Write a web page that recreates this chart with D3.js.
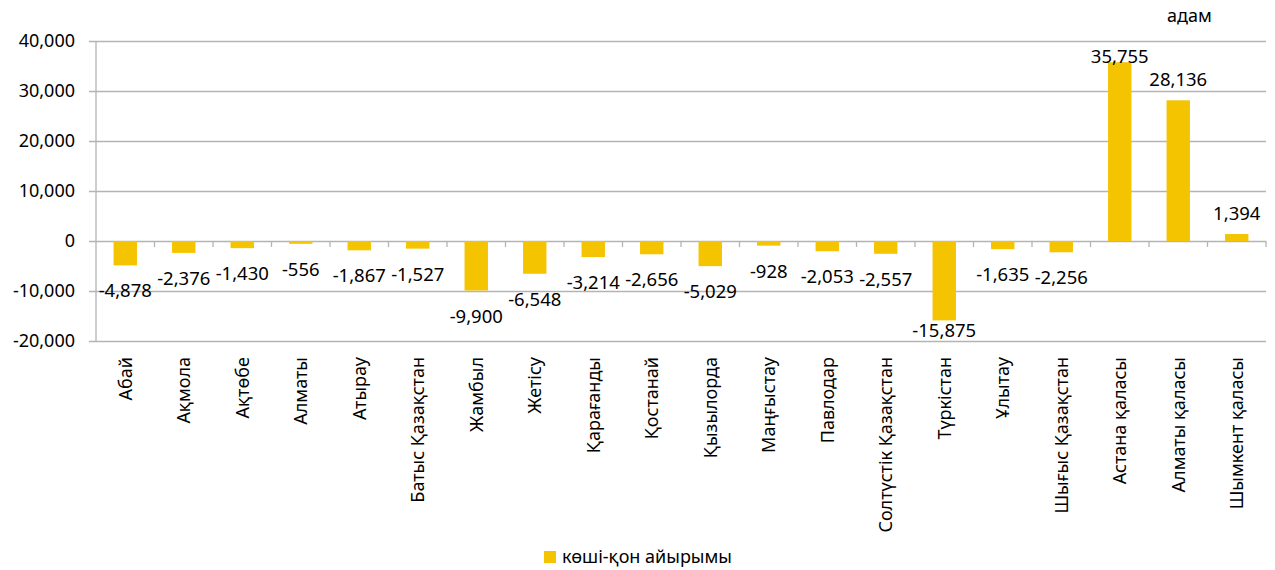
<!DOCTYPE html>
<html>
<head>
<meta charset="utf-8">
<script src="https://cdn.jsdelivr.net/npm/d3@7"></script>
<style>
  body { margin: 0; background: #fff; }
  svg text { font-family: "Noto Sans", "Open Sans", sans-serif; fill: #000; }
</style>
</head>
<body>
<div class="app"></div>
<script>
// region names and net migration values (persons)
var regions = ["Абай", "Ақмола", "Ақтөбе", "Алматы", "Атырау", "Батыс Қазақстан",
  "Жамбыл", "Жетісу", "Қарағанды", "Қостанай", "Қызылорда", "Маңғыстау", "Павлодар",
  "Солтүстік Қазақстан", "Түркістан", "Ұлытау", "Шығыс  Қазақстан", "Астана қаласы",
  "Алматы қаласы", "Шымкент қаласы"];
var netMigration = [-4878, -2376, -1430, -556, -1867, -1527, -9900, -6548, -3214, -2656,
  -5029, -928, -2053, -2557, -15875, -1635, -2256, 35755, 28136, 1394];
var yTicks = [-20000, -10000, 0, 10000, 20000, 30000, 40000];
var seriesName = "көші-қон айырымы";
var unitLabel = "адам";

var width = 1275, height = 570;
var plotL = 96, plotR = 1266, plotT = 41, plotB = 341;
var barColor = "#F5C400", gridColor = "#b4b4b4";
var fmtBase = d3.format(",");
var fmt = function (v) { return fmtBase(v).replace("\u2212", "-"); };

var svg = d3.select(".app").append("svg").attr("width", width).attr("height", height);

var x = d3.scaleBand().domain(regions).range([plotL, plotR]).paddingInner(0.6).paddingOuter(0.3);
var y = d3.scaleLinear().domain([-20000, 40000]).range([plotB, plotT]);

// gridlines + y labels
var yAxis = d3.axisLeft(y).tickValues(yTicks).tickFormat(fmt).tickSize(0).tickPadding(14);
var gy = svg.append("g").attr("transform", "translate(" + plotL + ",0)").call(yAxis);
gy.select(".domain").remove();
gy.selectAll(".tick line").attr("x1", -7).attr("x2", plotR - plotL)
  .attr("stroke", gridColor).attr("stroke-width", 1.3);
gy.selectAll(".tick text").style("font-size", "18px").attr("x", -21);

// vertical axis line
svg.append("line").attr("x1", plotL).attr("x2", plotL).attr("y1", plotT).attr("y2", plotB)
  .attr("stroke", gridColor).attr("stroke-width", 1.3);

// bars
svg.selectAll(".bar").data(regions).enter().append("rect")
  .attr("class", "bar")
  .attr("x", function (d) { return x(d); })
  .attr("width", x.bandwidth())
  .attr("y", function (d, i) { return y(Math.max(0, netMigration[i])); })
  .attr("height", function (d, i) { return Math.abs(y(netMigration[i]) - y(0)); })
  .attr("fill", barColor);

// category ticks on zero line
var step = (plotR - plotL) / regions.length;
svg.selectAll(".ctick").data(d3.range(1, regions.length + 1)).enter().append("line")
  .attr("x1", function (k) { return plotL + k * step; })
  .attr("x2", function (k) { return plotL + k * step; })
  .attr("y1", y(0)).attr("y2", y(0) + 6)
  .attr("stroke", gridColor).attr("stroke-width", 1.3);

// value labels
svg.selectAll(".vlab").data(regions).enter().append("text")
  .attr("x", function (d) { return x(d) + x.bandwidth() / 2; })
  .attr("y", function (d, i) {
    var v = netMigration[i];
    if (v < 0) return Math.min(y(v) + 32, plotB - 4);
    return Math.max(y(v) - 14, plotT + 22);
  })
  .attr("text-anchor", "middle")
  .style("font-size", "18.5px")
  .text(function (d, i) { return fmt(netMigration[i]); });

// category labels (rotated)
svg.selectAll(".clab").data(regions).enter().append("text")
  .attr("transform", function (d) {
    return "translate(" + (x(d) + x.bandwidth() / 2) + "," + (plotB + 16) + ") rotate(-90)";
  })
  .attr("dy", "0.35em")
  .attr("text-anchor", "end")
  .style("font-size", "18px")
  .text(function (d) { return d; });

// unit label
svg.append("text").attr("x", 1167).attr("y", 22).style("font-size", "18px").text(unitLabel);

// legend
svg.append("rect").attr("x", 544).attr("y", 551).attr("width", 12).attr("height", 12).attr("fill", barColor);
svg.append("text").attr("x", 562).attr("y", 563).style("font-size", "18px").text(seriesName);
</script>
</body>
</html>
